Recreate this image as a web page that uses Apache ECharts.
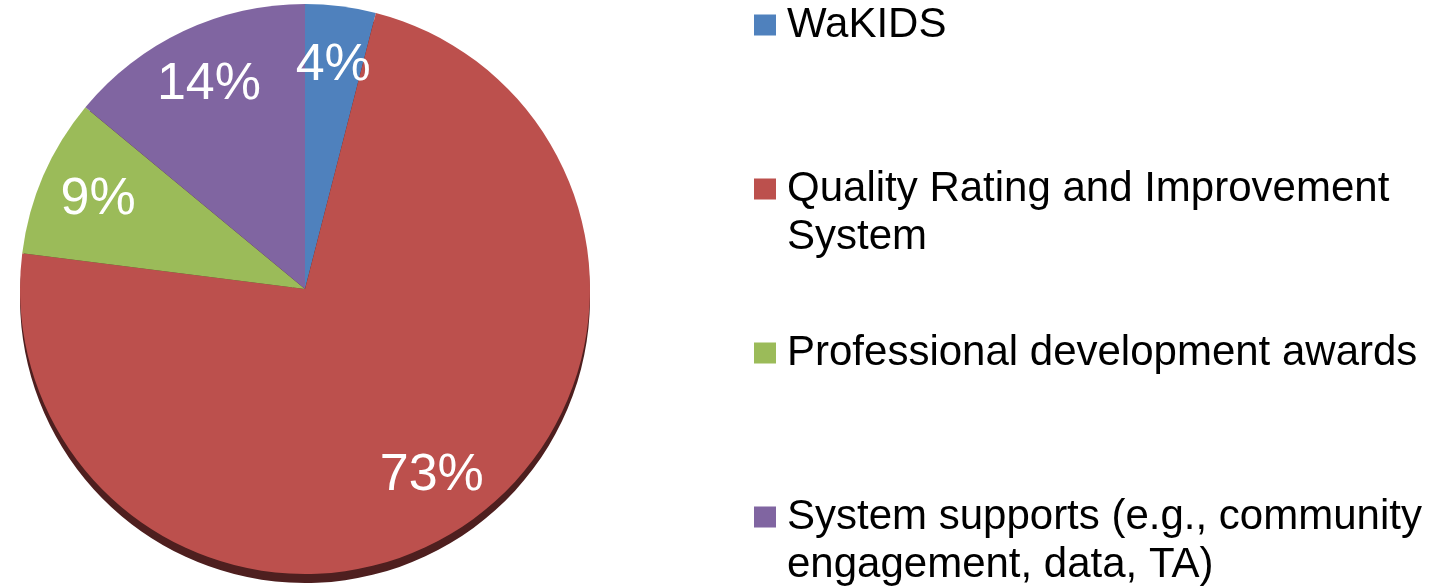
<!DOCTYPE html>
<html>
<head>
<meta charset="utf-8">
<script src="https://cdn.jsdelivr.net/npm/echarts@6/dist/echarts.min.js"></script>
<style>
html,body{margin:0;padding:0;background:#fff;}
#chart{width:1447px;height:586px;}
</style>
</head>
<body>
<div id="chart"></div>
<script>
// ---- data ----
const categories = [
  'WaKIDS',
  'Quality Rating and Improvement System',
  'Professional development awards',
  'System supports (e.g., community engagement, data, TA)'
];
const legendLines = [
  ['WaKIDS'],
  ['Quality Rating and Improvement', 'System'],
  ['Professional development awards'],
  ['System supports (e.g., community', 'engagement, data, TA)']
];
const values = [4, 73, 9, 14];
const sliceColors = ['#4F81BD', '#BC504D', '#9BBB59', '#8065A1'];

// ---- chart ----
const chart = echarts.init(document.getElementById('chart'), null, {renderer: 'canvas'});
const font = '"Liberation Sans", Arial, sans-serif';
const center = [305, 289];
const radius = 285;

const pieData = categories.map((name, i) => ({name: name, value: values[i]}));
const legendText = {};
categories.forEach((n, i) => {
  const lines = legendLines[i].slice();
  if (lines.length < 2) lines.push(' ');
  legendText[n] = lines.join('\n');
});

const option = {
  animation: false,
  color: sliceColors,
  legend: {
    orient: 'vertical',
    left: 749,
    top: -4,
    height: 700,
    padding: 5,
    itemWidth: 28,
    itemHeight: 96,
    itemGap: 68,
    icon: 'path://M0,0h0.01v0.01h-0.01Z M0,13.5h22v21h-22Z M27.99,95.99h0.01v0.01h-0.01Z',
    data: categories,
    formatter: name => legendText[name],
    textStyle: {fontFamily: font, fontSize: 42, lineHeight: 48, color: '#000'}
  },
  series: [
    {
      type: 'pie',
      name: 'main',
      center: center,
      radius: radius,
      startAngle: 90,
      clockwise: true,
      z: 3,
      label: {show: false},
      labelLine: {show: false},
      emphasis: {scale: false},
      itemStyle: {borderWidth: 0},
      data: pieData
    },
    {
      type: 'pie',
      name: 'labels',
      center: center,
      radius: [160, radius],
      startAngle: 90,
      clockwise: true,
      silent: true,
      z: 4,
      itemStyle: {color: 'rgba(0,0,0,0)', borderWidth: 0},
      label: {
        show: true,
        position: 'inside',
        formatter: p => p.value + '%',
        color: '#fff',
        fontFamily: font,
        fontSize: 52,
        textBorderWidth: 0
      },
      labelLine: {show: false},
      emphasis: {disabled: true},
      data: pieData
    },
    {
      type: 'pie',
      name: 'rim',
      center: [center[0], center[1] + 9],
      radius: radius,
      startAngle: 90,
      clockwise: true,
      silent: true,
      z: 1,
      itemStyle: {color: '#4E1F1F', borderWidth: 0},
      label: {show: false},
      labelLine: {show: false},
      emphasis: {disabled: true},
      data: pieData
    }
  ]
};
chart.setOption(option);
</script>
</body>
</html>
